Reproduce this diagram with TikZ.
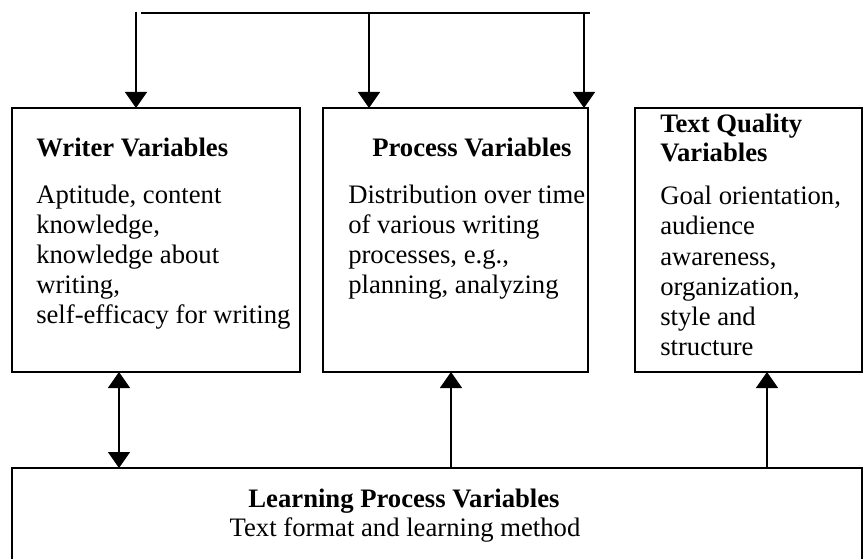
\documentclass[tikz,border=0pt]{standalone}
\usepackage{fontspec}
\setmainfont{Liberation Serif}
\usetikzlibrary{arrows.meta, positioning}

\tikzset{
  varbox/.style={draw, line width=1.5pt, inner sep=0pt, outer sep=0pt, anchor=north west},
  boxtext/.style={font=\fontsize{20}{22.5}\selectfont, align=left, inner sep=0pt, anchor=base west},
  boxhead/.style={boxtext, font=\fontsize{20}{21.75}\selectfont\bfseries},
  arr/.style={-{Triangle[length=12pt,width=16.5pt]}, line width=1pt},
  dblarr/.style={{Triangle[length=12pt,width=16.5pt]}-{Triangle[length=12pt,width=16.5pt]}, line width=1pt}
}

\begin{document}
\begin{tikzpicture}[x=0.75pt, y=-0.75pt]
  \useasboundingbox (0,0) rectangle (863,559);

  % Boxes
  \node[varbox, minimum width=216pt, minimum height=198pt] (writer) at (12,108) {};
  \node[varbox, minimum width=198.75pt, minimum height=198pt] (process) at (323,108) {};
  \node[varbox, minimum width=170.25pt, minimum height=198pt] (quality) at (635,108) {};
  \node[varbox, minimum width=637.5pt, minimum height=82.5pt] (learning) at (12,468) {};

  % --- Writer Variables (texts placed at their last baseline) ---
  \node[boxhead] (writerhead) at (36,157) {Writer Variables};
  \node[boxtext] (writerbody) at (36,324)
       {Aptitude, content\\knowledge,\\knowledge about\\writing,\\self-efficacy for writing};

  % --- Process Variables ---
  \node[boxhead] (processhead) at (372,157) {Process Variables};
  \node[boxtext] (processbody) at (348,294)
       {Distribution over time\\of various writing\\processes, e.g.,\\planning, analyzing};

  % --- Text Quality Variables ---
  \node[boxhead] (qualityhead) at (660,162) {Text Quality\\Variables};
  \node[boxtext] (qualitybody) at (660,355)
       {Goal orientation,\\audience\\awareness,\\organization,\\style and\\structure};

  % --- Learning Process Variables ---
  \node[boxhead, anchor=base] (learninghead) at (404,507) {Learning Process Variables};
  \node[boxtext, anchor=base] (learningbody) at (405,536) {Text format and learning method};

  % Top distribution line
  \coordinate (topleft) at (136,12);
  \coordinate (topmid) at (369,13);
  \coordinate (topright) at (584,13);
  \draw[line width=1pt] (141,13) -- (590,13);
  \draw[arr] (topleft) -- (topleft |- writer.north);
  \draw[arr] (topmid) -- (topmid |- process.north);
  \draw[arr] (topright) -- (topright |- quality.north);

  % Links from the learning box
  \draw[dblarr] (learning.north -| 119,0) -- (writer.south -| 119,0);
  \draw[arr] (learning.north -| 451,0) -- (process.south -| 451,0);
  \draw[arr] (learning.north -| 767,0) -- (quality.south -| 767,0);
\end{tikzpicture}
\end{document}
